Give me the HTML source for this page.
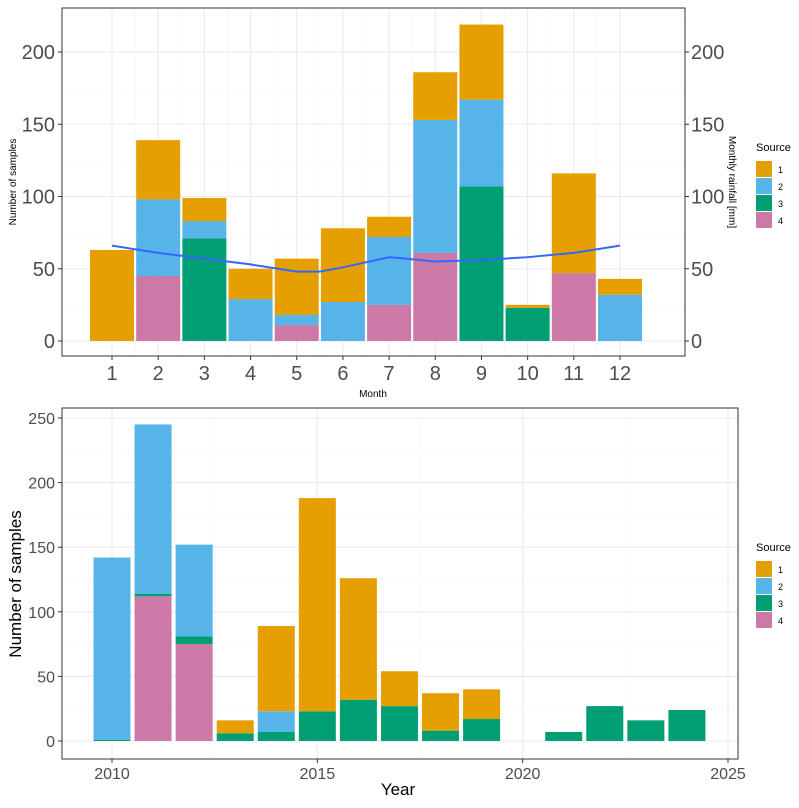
<!DOCTYPE html>
<html><head><meta charset="utf-8"><style>
body{margin:0;background:#fff;font-family:"Liberation Sans",Arial,sans-serif}
</style></head><body>
<svg id="c" width="799" height="803" xmlns="http://www.w3.org/2000/svg"></svg>
<script>
const months=[1,2,3,4,5,6,7,8,9,10,11,12];
const m_s4=[0,45,0,0,11,0,25,61,0,0,47,0];
const m_s3=[0,0,71,0,0,0,0,0,107,23,0,0];
const m_s2=[0,53,12,29,7,27,47,92,60,0,0,32];
const m_s1=[63,41,16,21,39,51,14,33,52,2,69,11];
const rainX=[1,2,3,4,5,5.5,6,7,8,9,10,11,12];
const rainY=[66,61,57,53,48,48,51,58,55,56,58,61,66];
const topTicks=[0,50,100,150,200];
const years=[2010,2011,2012,2013,2014,2015,2016,2017,2018,2019,2021,2022,2023,2024];
const y_s4=[0,112,75,0,0,0,0,0,0,0,0,0,0,0];
const y_s3=[1,2,6,6,7,23,32,27,8,17,7,27,16,24];
const y_s2=[141,131,71,0,16,0,0,0,0,0,0,0,0,0];
const y_s1=[0,0,0,10,66,165,94,27,29,23,0,0,0,0];
const botYTicks=[0,50,100,150,200,250];
const botXTicks=[2010,2015,2020,2025];
const colors={s1:"#E69F00",s2:"#56B4E9",s3:"#009E73",s4:"#CC79A7"};
const svg=document.getElementById('c');
const NS="http://www.w3.org/2000/svg";
function mk(t,a,p){const e=document.createElementNS(NS,t);for(const k in a)e.setAttribute(k,a[k]);(p||svg).appendChild(e);return e;}
function txt(x,y,s,size,fill,anchor,p,rot){const e=mk('text',{x:x,y:y,'font-size':size,fill:fill,'text-anchor':anchor||'middle'},p);if(rot)e.setAttribute('transform',`rotate(${rot} ${x} ${y})`);e.textContent=s;return e;}

// ---------- top panel ----------
const tx=m=>112+(m-1)*(620-112)/11;
const ty=v=>341-v*(341-52)/200;
const T={l:62,r:685,t:8,b:356};
const gT=mk('g',{});

for(let v=25;v<=225;v+=50){mk('line',{x1:T.l,x2:T.r,y1:ty(v),y2:ty(v),stroke:'#f4f4f4','stroke-width':0.6},gT);}
for(let m=1.5;m<12;m+=1){mk('line',{x1:tx(m),x2:tx(m),y1:T.t,y2:T.b,stroke:'#f4f4f4','stroke-width':0.6},gT);}
topTicks.forEach(v=>{mk('line',{x1:T.l,x2:T.r,y1:ty(v),y2:ty(v),stroke:'#ebebeb','stroke-width':1.1},gT);});
months.forEach(m=>{mk('line',{x1:tx(m),x2:tx(m),y1:T.t,y2:T.b,stroke:'#ebebeb','stroke-width':1.1},gT);});
const bwT=44;
months.forEach((m,i)=>{let base=0;[['s4',m_s4],['s3',m_s3],['s2',m_s2],['s1',m_s1]].forEach(([k,arr])=>{const v=arr[i];if(v>0){const r=mk('rect',{x:tx(m)-bwT/2,y:ty(base+v),width:bwT,height:ty(base)-ty(base+v),fill:colors[k]},gT);}base+=v;});});
const pl=mk('polyline',{points:rainX.map((x,i)=>tx(x)+','+ty(rainY[i])).join(' '),fill:'none',stroke:'#3366FF','stroke-width':2},gT);

mk('rect',{x:T.l,y:T.t,width:T.r-T.l,height:T.b-T.t,fill:'none',stroke:'#333','stroke-width':1},gT);
topTicks.forEach(v=>{mk('line',{x1:T.l-4,x2:T.l,y1:ty(v),y2:ty(v),stroke:'#333'},gT);mk('line',{x1:T.r,x2:T.r+4,y1:ty(v),y2:ty(v),stroke:'#333'},gT);
 txt(T.l-7,ty(v)+7,String(v),20,'#4d4d4d','end',gT);txt(T.r+6,ty(v)+7,String(v),20,'#4d4d4d','start',gT);});
months.forEach(m=>{mk('line',{x1:tx(m),x2:tx(m),y1:T.b,y2:T.b+4,stroke:'#333'},gT);txt(tx(m),T.b+24,String(m),20,'#4d4d4d','middle',gT);});
const xt=txt(373,397,'Month',10,'#000','middle',gT);
const yt=txt(16,182,'Number of samples',10,'#000','middle',gT,-90);
const yr=txt(729,182,'Monthly rainfall [mm]',10,'#000','middle',gT,90);
function legend(x,y,name){const g=mk('g',{});
 txt(x,y,'Source',11,'#000','start',g);
 ['s1','s2','s3','s4'].forEach((k,i)=>{const e=mk('rect',{x:x,y:y+10+i*17,width:16,height:16,fill:colors[k]},g);txt(x+22,y+22+i*17,String(i+1),9,'#000','start',g);});}
legend(756,151,'legend-top');

// ---------- bottom panel ----------
const bx=y=>112+(y-2010)*(728-112)/15;
const by=v=>741-v*(741-418)/250;
const B={l:62,r:738,t:408,b:759};
const gB=mk('g',{});

for(let v=25;v<=275;v+=50)if(by(v)>B.t)mk('line',{x1:B.l,x2:B.r,y1:by(v),y2:by(v),stroke:'#f4f4f4','stroke-width':0.6},gB);
for(let v=2007.5;v<=2027.5;v+=5)if(bx(v)>B.l&&bx(v)<B.r)mk('line',{x1:bx(v),x2:bx(v),y1:B.t,y2:B.b,stroke:'#f4f4f4','stroke-width':0.6},gB);
botYTicks.forEach(v=>mk('line',{x1:B.l,x2:B.r,y1:by(v),y2:by(v),stroke:'#ebebeb','stroke-width':1.1},gB));
botXTicks.forEach(v=>mk('line',{x1:bx(v),x2:bx(v),y1:B.t,y2:B.b,stroke:'#ebebeb','stroke-width':1.1},gB));
const bwB=37;
years.forEach((yv,i)=>{let base=0;[['s4',y_s4],['s3',y_s3],['s2',y_s2],['s1',y_s1]].forEach(([k,arr])=>{const v=arr[i];if(v>0){const r=mk('rect',{x:bx(yv)-bwB/2,y:by(base+v),width:bwB,height:by(base)-by(base+v),fill:colors[k]},gB);}base+=v;});});
mk('rect',{x:B.l,y:B.t,width:B.r-B.l,height:B.b-B.t,fill:'none',stroke:'#333','stroke-width':1},gB);
botYTicks.forEach(v=>{mk('line',{x1:B.l-4,x2:B.l,y1:by(v),y2:by(v),stroke:'#333'},gB);txt(B.l-7,by(v)+6,String(v),16,'#4d4d4d','end',gB);});
botXTicks.forEach(v=>{mk('line',{x1:bx(v),x2:bx(v),y1:B.b,y2:B.b+4,stroke:'#333'},gB);txt(bx(v),B.b+20,String(v),16,'#4d4d4d','middle',gB);});
const xb=txt(398,795,'Year',17,'#000','middle',gB);
const ybt=txt(21,584,'Number of samples',17,'#000','middle',gB,-90);
legend(756,551,'legend-bottom');
</script>
</body></html>
